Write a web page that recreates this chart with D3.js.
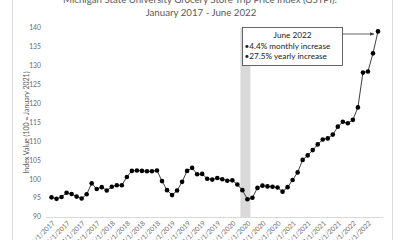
<!DOCTYPE html>
<html>
<head>
<meta charset="utf-8">
<script src="https://cdn.jsdelivr.net/npm/d3@7"></script>
<style>
  body { margin: 0; background: #fff; }
  svg { display: block; font-family: Lato, "Open Sans", sans-serif; }
</style>
</head>
<body>
<div id="chart"></div>
<script>
// GSTPI index, one value per month, Jan 2017 .. Jun 2022
const months = d3.range(66).map(i => new Date(2017, i, 1));
const gstpi = [
  95.2, 94.8, 95.3, 96.4, 96.1, 95.4, 94.9, 96.0, 98.9, 97.4, 97.9, 97.0,
  98.0, 98.4, 98.4, 100.6, 102.2, 102.3, 102.2, 102.1, 102.1, 102.3, 99.5, 97.1,
  95.8, 97.0, 99.3, 102.2, 103.0, 101.3, 101.4, 100.1, 99.9, 100.3, 100.0, 99.6,
  99.7, 98.6, 97.1, 94.7, 95.1, 97.7, 98.3, 98.1, 98.0, 97.8, 96.7, 97.9,
  99.8, 101.8, 105.1, 106.3, 107.7, 109.2, 110.5, 110.8, 111.8, 113.9, 115.2, 114.8,
  115.7, 119.0, 128.2, 128.5, 133.3, 139.1
];
const yTicks = [90, 95, 100, 105, 110, 115, 120, 125, 130, 135, 140];
// shaded covid period (in month index units)
const shadeBand = [37.6, 39.6];
const noteLines = ["June 2022", "\u20224.4% monthly increase", "\u202227.5% yearly increase"];

const width = 400, height = 240;
const margin = { top: 28, right: 22, bottom: 23, left: 51 };

const svg = d3.select("#chart").append("svg")
  .attr("width", width).attr("height", height);

// chart area border
svg.append("rect")
  .attr("x", 12.5).attr("y", -20).attr("width", 380).attr("height", 290)
  .attr("fill", "none").attr("stroke", "#d9d9d9");

const x = d3.scaleLinear().domain([0, 65]).range([margin.left + 0.5, 378]);
const y = d3.scaleLinear().domain([90, 140]).range([217, 28]);

// title
svg.append("text").attr("x", 200).attr("y", 3).attr("text-anchor", "middle")
  .attr("font-size", 9.7).attr("fill", "#595959")
  .text("Michigan State University Grocery Store Trip Price Index (GSTPI):");
svg.append("text").attr("x", 201).attr("y", 16).attr("text-anchor", "middle")
  .attr("font-size", 9.7).attr("fill", "#595959")
  .text("January 2017 - June 2022");

// shaded band
svg.append("rect")
  .attr("x", x(shadeBand[0])).attr("width", x(shadeBand[1]) - x(shadeBand[0]))
  .attr("y", y(140)).attr("height", y(90) - y(140))
  .attr("fill", "#d9d9d9");

// y axis labels
svg.selectAll(".ytick").data(yTicks).enter().append("text")
  .attr("class", "ytick")
  .attr("x", 41).attr("y", d => y(d)).attr("dy", "0.35em")
  .attr("text-anchor", "end").attr("font-size", 6.8).attr("fill", "#6b6b6b")
  .text(d => d);

svg.append("text")
  .attr("transform", `translate(27,${(y(90) + y(140)) / 2}) rotate(-90)`)
  .attr("text-anchor", "middle").attr("dy", "0.35em")
  .attr("font-size", 7).attr("fill", "#595959")
  .text("Index Value (100 = January 2021)");

// x axis line
svg.append("line")
  .attr("x1", 46).attr("x2", 383).attr("y1", y(90) + 0.5).attr("y2", y(90) + 0.5)
  .attr("stroke", "#d9d9d9");

// x labels every 3 months
const fmt = d3.timeFormat("%-m/%-d/%Y");
const xLabels = d3.range(0, 66, 3);
svg.selectAll(".xtick").data(xLabels).enter().append("text")
  .attr("class", "xtick")
  .attr("transform", d => `translate(${x(d) + 2},${y(90) + 5}) rotate(-45)`)
  .attr("text-anchor", "end").attr("dy", "0.35em")
  .attr("font-size", 6.8).attr("fill", "#6b6b6b")
  .text(d => fmt(months[d]));

// line + markers
const line = d3.line().x((d, i) => x(i)).y(d => y(d));
svg.append("path").datum(gstpi)
  .attr("d", line).attr("fill", "none")
  .attr("stroke", "#404040").attr("stroke-width", 1);

svg.selectAll(".pt").data(gstpi).enter().append("circle")
  .attr("class", "pt")
  .attr("cx", (d, i) => x(i)).attr("cy", d => y(d))
  .attr("r", 2.3).attr("fill", "#000");

// annotation box
const box = { x: 242.5, y: 27.5, w: 100, h: 38 };
svg.append("rect")
  .attr("x", box.x).attr("y", box.y).attr("width", box.w).attr("height", box.h)
  .attr("fill", "#fff").attr("stroke", "#404040").attr("stroke-width", 0.8);
svg.append("text").attr("x", box.x + box.w / 2).attr("y", box.y + 10)
  .attr("text-anchor", "middle").attr("font-size", 8.2).attr("fill", "#222")
  .text(noteLines[0]);
svg.selectAll(".note").data(noteLines.slice(1)).enter().append("text")
  .attr("class", "note")
  .attr("x", box.x + 2).attr("y", (d, i) => box.y + 21 + i * 10)
  .attr("font-size", 8.2).attr("fill", "#222")
  .text(d => d);

svg.append("defs").append("marker")
  .attr("id", "arrow").attr("viewBox", "0 0 10 10")
  .attr("refX", 9).attr("refY", 5)
  .attr("markerWidth", 6).attr("markerHeight", 6)
  .attr("orient", "auto")
  .append("path").attr("d", "M0,1 L10,5 L0,9 Z").attr("fill", "#404040");

svg.append("line")
  .attr("x1", box.x + box.w).attr("y1", 34)
  .attr("x2", x(65) - 4).attr("y2", 34)
  .attr("stroke", "#404040").attr("stroke-width", 0.8)
  .attr("marker-end", "url(#arrow)");
</script>
</body>
</html>
